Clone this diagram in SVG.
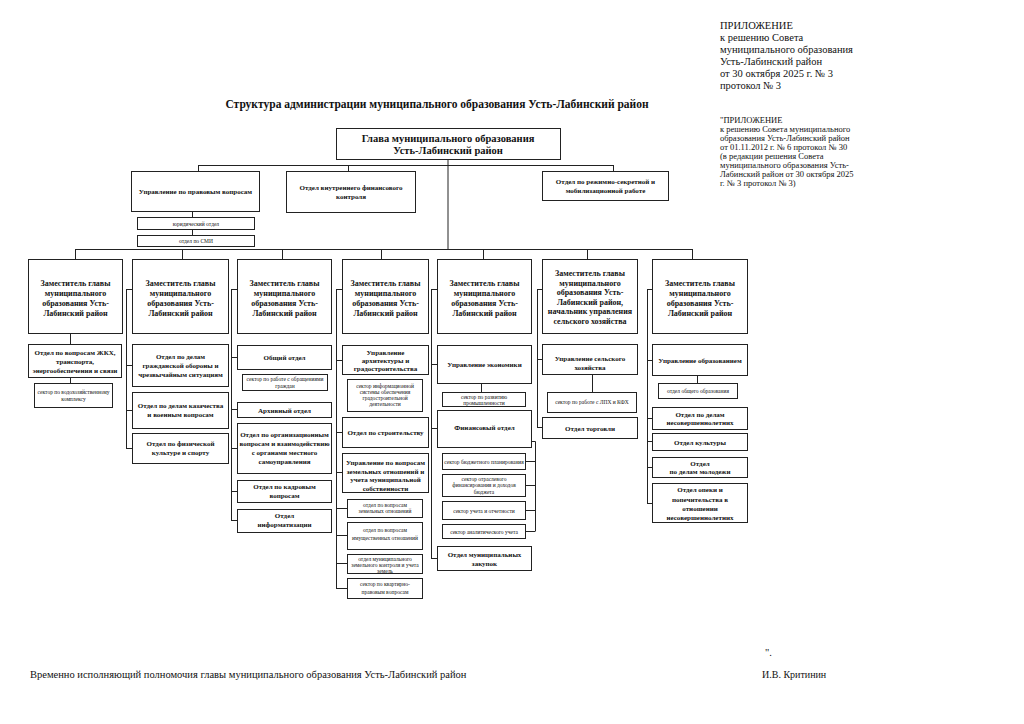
<svg xmlns="http://www.w3.org/2000/svg" width="1024" height="724" viewBox="0 0 1024 724">
<style>
.b{fill:#fff;stroke:#222;stroke-width:1}
.t{font-family:"Liberation Serif","Times New Roman",serif;text-anchor:middle;fill:#111}
.l{font-family:"Liberation Serif","Times New Roman",serif;fill:#111}
.dep{font-size:8px;font-weight:bold}
.d{font-size:7px;font-weight:bold}
.s{font-size:5.5px}
.c{stroke:#222;stroke-width:1;fill:none}
</style>
<rect width="1024" height="724" fill="#fff"/>

<g id="appendix1" class="l" font-size="10.5">
<text x="720" y="28.5">ПРИЛОЖЕНИЕ</text>
<text x="720" y="40.5">к решению Совета</text>
<text x="720" y="52.5">муниципального образования</text>
<text x="720" y="64.5">Усть-Лабинский район</text>
<text x="720" y="76.5">от 30 октября 2025 г. № 3</text>
<text x="720" y="88.5">протокол № 3</text>
</g>
<g id="appendix2" class="l" font-size="8.5">
<text x="720" y="123">"ПРИЛОЖЕНИЕ</text>
<text x="720" y="132">к решению Совета муниципального</text>
<text x="720" y="141">образования Усть-Лабинский район</text>
<text x="720" y="150">от 01.11.2012 г. № 6 протокол № 30</text>
<text x="720" y="159">(в редакции решения Совета</text>
<text x="720" y="168">муниципального образования Усть-</text>
<text x="720" y="177">Лабинский район от 30 октября 2025</text>
<text x="720" y="186">г. № 3 протокол № 3)</text>
</g>
<text class="t" x="437" y="108" font-size="11.5" font-weight="bold">Структура администрации муниципального образования Усть-Лабинский район</text>

<g id="connectors" class="c">
<path d="M448 159V249"/>
<path d="M198 165.5H613M198.5 165V171M348.5 165V171M613.5 165V171"/>
<path d="M192.5 211V217M192.5 230V235"/>
<path d="M75 249.5H692.5M75.5 249V259M182.5 249V259M282.5 249V259M381.5 249V259M483.5 249V259M587.5 249V259M692.5 249V259"/>
<path d="M70.5 333V344M70.5 377V383"/>
<path d="M126.5 289V448.5M126 289.5H132M126 365.5H132M126 410.5H132M126 448.5H132"/>
<path d="M231.5 289V520.5M231 289.5H237M231 357.5H237M231 409.5H237M231 448.5H237M231 491.5H237M231 520.5H237"/>
<path d="M336.5 289V588.5M336 289.5H342M336 360.5H342M336 432.5H342M336 472.5H342M336 508.5H347M336 535.5H347M336 563.5H347M336 588.5H347"/>
<path d="M431.5 289V558.5M431 289.5H437M431 364.5H437M431 428.5H437M431 558.5H437"/>
<path d="M481.5 383V392"/>
<path d="M532 441.5H535.5V531.5M525 461.5H535M525 485.5H535M525 510.5H535M525 531.5H535"/>
<path d="M537.5 289V427.5M537 289.5H542M537 359.5H542M537 427.5H542"/>
<path d="M592.5 374V392"/>
<path d="M647.5 289V503.5M647 289.5H652M647 360.5H652M647 418.5H652M647 441.5H652M647 467.5H652M647 503.5H652"/>
<path d="M697.5 375V383"/>
</g>

<g id="head">
<rect class="b" x="336.5" y="128.5" width="224" height="31"/>
<text class="t" x="448" y="141.5" font-size="10.5" font-weight="bold">Глава муниципального образования</text>
<text class="t" x="448" y="153.5" font-size="10.5" font-weight="bold">Усть-Лабинский район</text>
</g>

<g id="legal">
<rect class="b" x="131.5" y="171.5" width="128" height="40"/>
<text class="t d" x="195.5" y="193.5">Управление по правовым вопросам</text>
</g>
<g id="jur">
<rect class="b" x="137.5" y="217.5" width="117" height="12"/>
<text class="t s" x="196" y="225.5">юридический отдел</text>
</g>
<g id="smi">
<rect class="b" x="137.5" y="235.5" width="117" height="11"/>
<text class="t s" x="196" y="243">отдел по СМИ</text>
</g>
<g id="fincontrol">
<rect class="b" x="286.5" y="171.5" width="129" height="41"/>
<text class="t d" x="351" y="190">Отдел внутреннего финансового</text>
<text class="t d" x="351" y="199">контроля</text>
</g>
<g id="secret">
<rect class="b" x="542.5" y="171.5" width="126" height="29"/>
<text class="t d" x="605.5" y="184">Отдел по режимно-секретной  и</text>
<text class="t d" x="605.5" y="193">мобилизационной работе</text>
</g>

<!-- column 1 -->
<g id="dep1">
<rect class="b" x="28.5" y="259.5" width="94" height="74"/>
<text class="t dep" x="75.5" y="286">Заместитель главы</text>
<text class="t dep" x="75.5" y="296">муниципального</text>
<text class="t dep" x="75.5" y="306">образования Усть-</text>
<text class="t dep" x="75.5" y="316">Лабинский район</text>
</g>
<g id="zhkh">
<rect class="b" x="28.5" y="344.5" width="93" height="33"/>
<text class="t d" x="75" y="355">Отдел по вопросам ЖКХ,</text>
<text class="t d" x="75" y="364">транспорта,</text>
<text class="t d" x="75" y="373">энергообеспечения и связи</text>
</g>
<g id="water">
<rect class="b" x="34.5" y="383.5" width="78" height="24"/>
<text class="t s" x="73.5" y="394">сектор по водохозяйственному</text>
<text class="t s" x="73.5" y="400.5">комплексу</text>
</g>

<!-- column 2 -->
<g id="dep2">
<rect class="b" x="132.5" y="259.5" width="96" height="74"/>
<text class="t dep" x="180.5" y="286">Заместитель главы</text>
<text class="t dep" x="180.5" y="296">муниципального</text>
<text class="t dep" x="180.5" y="306">образования Усть-</text>
<text class="t dep" x="180.5" y="316">Лабинский район</text>
</g>
<g id="go">
<rect class="b" x="132.5" y="344.5" width="96" height="42"/>
<text class="t d" x="180.5" y="359">Отдел по делам</text>
<text class="t d" x="180.5" y="368">гражданской обороны и</text>
<text class="t d" x="180.5" y="377">чрезвычайным ситуациям</text>
</g>
<g id="kazak">
<rect class="b" x="132.5" y="392.5" width="96" height="36"/>
<text class="t d" x="180.5" y="408">Отдел по делам казачества</text>
<text class="t d" x="180.5" y="417">и военным вопросам</text>
</g>
<g id="sport">
<rect class="b" x="132.5" y="433.5" width="96" height="30"/>
<text class="t d" x="180.5" y="446">Отдел по физической</text>
<text class="t d" x="180.5" y="455">культуре и спорту</text>
</g>

<!-- column 3 -->
<g id="dep3">
<rect class="b" x="237.5" y="259.5" width="94" height="74"/>
<text class="t dep" x="284.5" y="286">Заместитель главы</text>
<text class="t dep" x="284.5" y="296">муниципального</text>
<text class="t dep" x="284.5" y="306">образования Усть-</text>
<text class="t dep" x="284.5" y="316">Лабинский район</text>
</g>
<g id="general">
<rect class="b" x="237.5" y="345.5" width="94" height="24"/>
<text class="t d" x="284.5" y="360">Общий отдел</text>
</g>
<g id="citizens">
<rect class="b" x="242.5" y="374.5" width="85" height="16"/>
<text class="t s" x="285" y="381">сектор по работе с обращениями</text>
<text class="t s" x="285" y="387.5">граждан</text>
</g>
<g id="archive">
<rect class="b" x="237.5" y="402.5" width="94" height="15"/>
<text class="t d" x="284.5" y="412.5">Архивный отдел</text>
</g>
<g id="org">
<rect class="b" x="237.5" y="423.5" width="94" height="50"/>
<text class="t d" x="284.5" y="437">Отдел по организационным</text>
<text class="t d" x="284.5" y="446">вопросам и взаимодействию</text>
<text class="t d" x="284.5" y="455">с органами местного</text>
<text class="t d" x="284.5" y="464">самоуправления</text>
</g>
<g id="hr">
<rect class="b" x="237.5" y="480.5" width="94" height="22"/>
<text class="t d" x="284.5" y="489">Отдел по кадровым</text>
<text class="t d" x="284.5" y="498">вопросам</text>
</g>
<g id="it">
<rect class="b" x="237.5" y="509.5" width="94" height="23"/>
<text class="t d" x="284.5" y="518">Отдел</text>
<text class="t d" x="284.5" y="527">информатизации</text>
</g>

<!-- column 4 -->
<g id="dep4">
<rect class="b" x="342.5" y="259.5" width="86" height="74"/>
<text class="t dep" x="385.5" y="286">Заместитель главы</text>
<text class="t dep" x="385.5" y="296">муниципального</text>
<text class="t dep" x="385.5" y="306">образования Усть-</text>
<text class="t dep" x="385.5" y="316">Лабинский район</text>
</g>
<g id="arch">
<rect class="b" x="342.5" y="345.5" width="86" height="29"/>
<text class="t d" x="385.5" y="354.5">Управление</text>
<text class="t d" x="385.5" y="362.5">архитектуры и</text>
<text class="t d" x="385.5" y="370.5">градостроительства</text>
</g>
<g id="isogd">
<rect class="b" x="347.5" y="379.5" width="75" height="32"/>
<text class="t s" x="385" y="387.5">сектор информационной</text>
<text class="t s" x="385" y="393.5">системы обеспечения</text>
<text class="t s" x="385" y="399.5">градостроительной</text>
<text class="t s" x="385" y="405.5">деятельности</text>
</g>
<g id="build">
<rect class="b" x="342.5" y="417.5" width="86" height="30"/>
<text class="t d" x="385.5" y="435">Отдел по строительству</text>
</g>
<g id="land">
<rect class="b" x="342.5" y="453.5" width="86" height="39"/>
<text class="t d" x="385.5" y="465">Управление по вопросам</text>
<text class="t d" x="385.5" y="473.5">земельных отношений и</text>
<text class="t d" x="385.5" y="482">учета муниципальной</text>
<text class="t d" x="385.5" y="490.5">собственности</text>
</g>
<g id="landrel">
<rect class="b" x="347.5" y="499.5" width="75" height="18"/>
<text class="t s" x="385" y="506.5">отдел по вопросам</text>
<text class="t s" x="385" y="513">земельных отношений</text>
</g>
<g id="property">
<rect class="b" x="347.5" y="522.5" width="75" height="27"/>
<text class="t s" x="385" y="531.5">отдел по вопросам</text>
<text class="t s" x="385" y="539.5">имущественных отношений</text>
</g>
<g id="landctrl">
<rect class="b" x="347.5" y="554.5" width="75" height="19"/>
<text class="t s" x="385" y="560.5">отдел муниципального</text>
<text class="t s" x="385" y="566.5">земельного контроля и учета</text>
<text class="t s" x="385" y="572.5">земель</text>
</g>
<g id="housing">
<rect class="b" x="347.5" y="578.5" width="75" height="20"/>
<text class="t s" x="385" y="585.5">сектор по квартирно-</text>
<text class="t s" x="385" y="593.5">правовым вопросам</text>
</g>

<!-- column 5 -->
<g id="dep5">
<rect class="b" x="437.5" y="259.5" width="94" height="74"/>
<text class="t dep" x="484.5" y="286">Заместитель главы</text>
<text class="t dep" x="484.5" y="296">муниципального</text>
<text class="t dep" x="484.5" y="306">образования Усть-</text>
<text class="t dep" x="484.5" y="316">Лабинский район</text>
</g>
<g id="econ">
<rect class="b" x="437.5" y="345.5" width="94" height="38"/>
<text class="t d" x="484.5" y="367">Управление экономики</text>
</g>
<g id="industry">
<rect class="b" x="442.5" y="392.5" width="83" height="14"/>
<text class="t s" x="484" y="398.5">сектор по развитию</text>
<text class="t s" x="484" y="404.5">промышленности</text>
</g>
<g id="finance">
<rect class="b" x="437.5" y="410.5" width="94" height="37"/>
<text class="t d" x="484.5" y="430">Финансовый отдел</text>
</g>
<g id="budget">
<rect class="b" x="442.5" y="453.5" width="83" height="16"/>
<text class="t s" x="484" y="463.5">сектор бюджетного планирования</text>
</g>
<g id="branch">
<rect class="b" x="442.5" y="474.5" width="83" height="22"/>
<text class="t s" x="484" y="480.5">сектор отраслевого</text>
<text class="t s" x="484" y="487">финансирования и доходов</text>
<text class="t s" x="484" y="493.5">бюджета</text>
</g>
<g id="accounting">
<rect class="b" x="442.5" y="501.5" width="83" height="18"/>
<text class="t s" x="484" y="512.5">сектор учета и отчетности</text>
</g>
<g id="analytic">
<rect class="b" x="442.5" y="524.5" width="83" height="14"/>
<text class="t s" x="484" y="533.5">сектор аналитического учета</text>
</g>
<g id="procurement">
<rect class="b" x="437.5" y="546.5" width="94" height="24"/>
<text class="t d" x="484.5" y="557">Отдел муниципальных</text>
<text class="t d" x="484.5" y="566">закупок</text>
</g>

<!-- column 6 -->
<g id="dep6">
<rect class="b" x="542.5" y="259.5" width="95" height="74"/>
<text class="t dep" x="590" y="276">Заместитель главы</text>
<text class="t dep" x="590" y="285.5">муниципального</text>
<text class="t dep" x="590" y="295">образования Усть-</text>
<text class="t dep" x="590" y="304.5">Лабинский район,</text>
<text class="t dep" x="590" y="314">начальник управления</text>
<text class="t dep" x="590" y="323.5">сельского хозяйства</text>
</g>
<g id="agro">
<rect class="b" x="542.5" y="344.5" width="95" height="30"/>
<text class="t d" x="590" y="361">Управление сельского</text>
<text class="t d" x="590" y="370">хозяйства</text>
</g>
<g id="lph">
<rect class="b" x="547.5" y="392.5" width="89" height="20"/>
<text class="t s" x="592" y="404">сектор по работе с ЛПХ и КФХ</text>
</g>
<g id="trade">
<rect class="b" x="542.5" y="417.5" width="95" height="21"/>
<text class="t d" x="590" y="430.5">Отдел торговли</text>
</g>

<!-- column 7 -->
<g id="dep7">
<rect class="b" x="652.5" y="259.5" width="95" height="74"/>
<text class="t dep" x="700" y="286">Заместитель главы</text>
<text class="t dep" x="700" y="296">муниципального</text>
<text class="t dep" x="700" y="306">образования Усть-</text>
<text class="t dep" x="700" y="316">Лабинский район</text>
</g>
<g id="edu">
<rect class="b" x="652.5" y="344.5" width="95" height="31"/>
<text class="t d" x="700" y="362.5">Управление образованием</text>
</g>
<g id="genedu">
<rect class="b" x="658.5" y="383.5" width="79" height="15"/>
<text class="t s" x="698" y="393">отдел общего образования</text>
</g>
<g id="minors">
<rect class="b" x="652.5" y="407.5" width="95" height="22"/>
<text class="t d" x="700" y="416.5">Отдел по делам</text>
<text class="t d" x="700" y="425">несовершеннолетних</text>
</g>
<g id="culture">
<rect class="b" x="652.5" y="433.5" width="95" height="17"/>
<text class="t d" x="700" y="444.5">Отдел культуры</text>
</g>
<g id="youth">
<rect class="b" x="652.5" y="457.5" width="95" height="20"/>
<text class="t d" x="700" y="465.5">Отдел</text>
<text class="t d" x="700" y="474">по делам молодежи</text>
</g>
<g id="guardianship">
<rect class="b" x="652.5" y="483.5" width="95" height="39"/>
<text class="t d" x="700" y="492">Отдел опеки и</text>
<text class="t d" x="700" y="501.5">попечительства в</text>
<text class="t d" x="700" y="511">отношении</text>
<text class="t d" x="700" y="520">несовершеннолетних</text>
</g>

<g id="footer" class="l" font-size="10.5">
<text x="765" y="656">".</text>
<text x="30" y="678">Временно исполняющий  полномочия главы муниципального образования Усть-Лабинский район</text>
<text x="762" y="678" font-size="10">И.В. Критинин</text>
</g>
</svg>
